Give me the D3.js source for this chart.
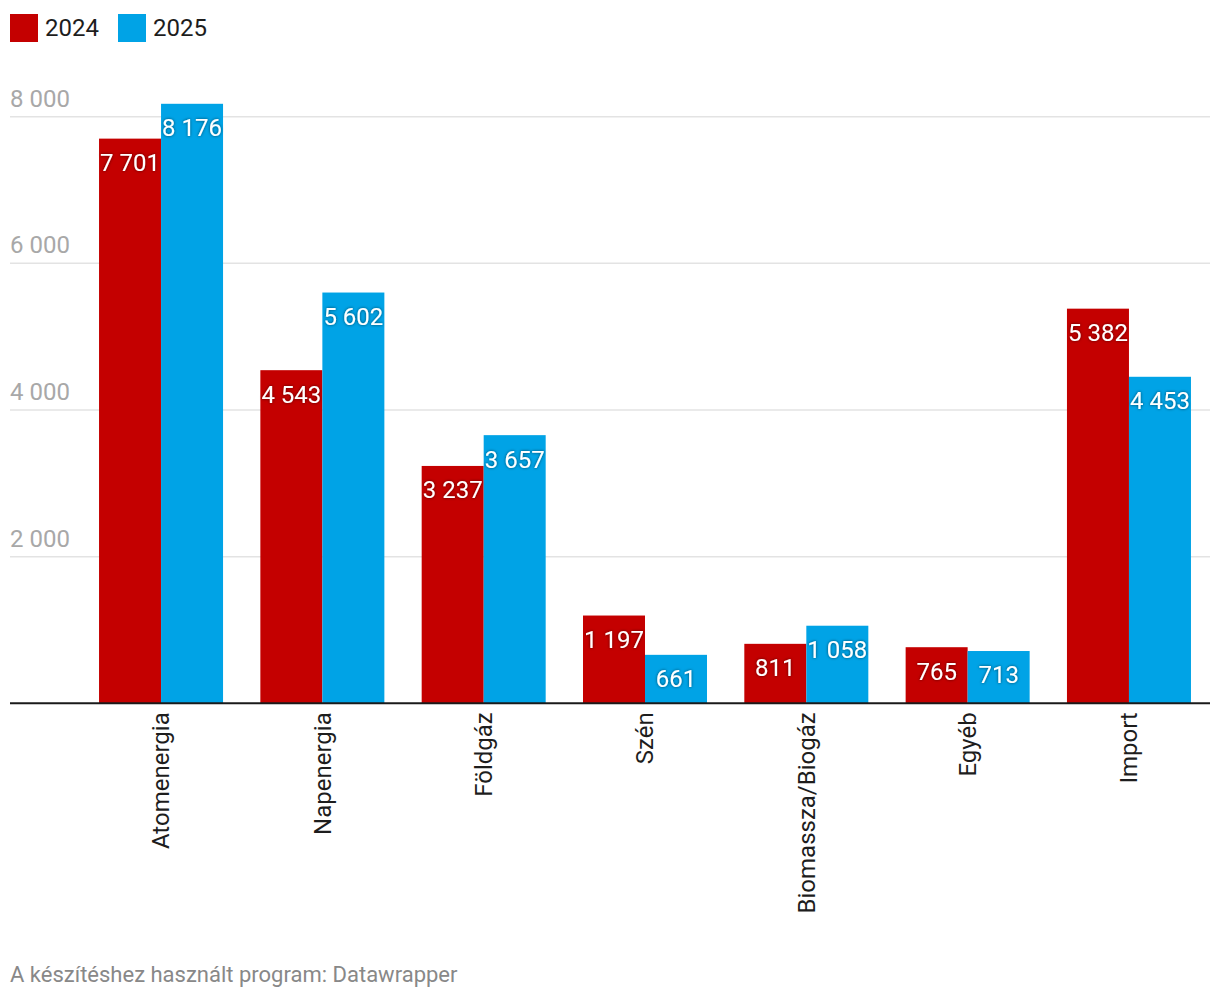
<!DOCTYPE html>
<html>
<head>
<meta charset="utf-8">
<script src="https://cdn.jsdelivr.net/npm/d3@7"></script>
<style>
  html, body { margin: 0; padding: 0; background: #fff; }
  svg { display: block; font-family: Roboto, "Noto Sans", sans-serif; }
</style>
</head>
<body>
<svg id="chart" width="1220" height="998"></svg>
<script>
const categories = ["Atomenergia", "Napenergia", "Földgáz", "Szén", "Biomassza/Biogáz", "Egyéb", "Import"];
const seriesNames = ["2024", "2025"];
const values2024 = [7701, 4543, 3237, 1197, 811, 765, 5382];
const values2025 = [8176, 5602, 3657, 661, 1058, 713, 4453];
const yTicks = [2000, 4000, 6000, 8000];
const colors = ["#c40000", "#00a3e6"];
const footer = "A készítéshez használt program: Datawrapper";

const locale = d3.formatLocale({decimal: ",", thousands: " ", grouping: [3], currency: ["", ""]});
const fmt = locale.format(",d");

const svg = d3.select("#chart");
const defs = svg.append("defs");
const f = defs.append("filter").attr("id", "shadow").attr("x", "-20%").attr("y", "-40%").attr("width", "140%").attr("height", "180%");
f.append("feDropShadow").attr("dx", 0).attr("dy", 0).attr("stdDeviation", 1.6).attr("flood-color", "#000").attr("flood-opacity", 0.6);

const x0 = d3.scaleBand().domain(categories).range([80, 1210]).paddingInner(0.2313).paddingOuter(0.118);
const x1 = d3.scaleBand().domain(seriesNames).range([0, x0.bandwidth()]);
const y = d3.scaleLinear().domain([0, 8000]).range([703.3, 116.7]);

// legend
const legend = svg.append("g");
const lx = [10, 118];
seriesNames.forEach((s, i) => {
  legend.append("rect").attr("x", lx[i]).attr("y", 14).attr("width", 28).attr("height", 28).attr("fill", colors[i]);
  legend.append("text").attr("x", lx[i] + 35).attr("y", 28).attr("dy", "0.35em")
    .attr("font-size", 24).attr("fill", "#1d1d1d").text(s);
});

// grid
const grid = svg.append("g");
grid.selectAll("line").data(yTicks).join("line")
  .attr("x1", 10).attr("x2", 1210)
  .attr("y1", d => y(d)).attr("y2", d => y(d))
  .attr("stroke", "#e3e3e3").attr("stroke-width", 1.5);
grid.selectAll("text").data(yTicks).join("text")
  .attr("x", 10).attr("y", d => y(d) - 10)
  .attr("font-size", 24).attr("fill", "#a8a8a8").text(d => fmt(d));

// bars
const data = categories.map((c, i) => ({cat: c, vals: [values2024[i], values2025[i]]}));
const groups = svg.append("g").selectAll("g").data(data).join("g")
  .attr("transform", d => `translate(${x0(d.cat)},0)`);
groups.selectAll("rect").data(d => d.vals.map((v, i) => ({s: seriesNames[i], v, i}))).join("rect")
  .attr("x", d => x1(d.s)).attr("width", x1.bandwidth())
  .attr("y", d => y(d.v)).attr("height", d => y(0) - y(d.v))
  .attr("fill", d => colors[d.i]);
groups.selectAll("text").data(d => d.vals.map((v, i) => ({s: seriesNames[i], v, i}))).join("text")
  .attr("x", d => x1(d.s) + x1.bandwidth() / 2)
  .attr("y", d => y(d.v) + 24).attr("dy", "0.35em")
  .attr("text-anchor", "middle").attr("font-size", 24).attr("fill", "#fff")
  .attr("filter", "url(#shadow)")
  .text(d => fmt(d.v));

// baseline
svg.append("line").attr("x1", 10).attr("x2", 1210).attr("y1", y(0)).attr("y2", y(0))
  .attr("stroke", "#1a1a1a").attr("stroke-width", 2);

// x labels
svg.append("g").selectAll("text").data(categories).join("text")
  .attr("transform", d => `translate(${x0(d) + x0.bandwidth() / 2},${y(0) + 9}) rotate(-90)`)
  .attr("text-anchor", "end").attr("dy", "0.35em")
  .attr("font-size", 24).attr("fill", "#1d1d1d").text(d => d);

// footer
svg.append("text").attr("x", 10).attr("y", 974).attr("dy", "0.35em")
  .attr("font-size", 22).attr("fill", "#888").text(footer);
</script>
</body>
</html>
